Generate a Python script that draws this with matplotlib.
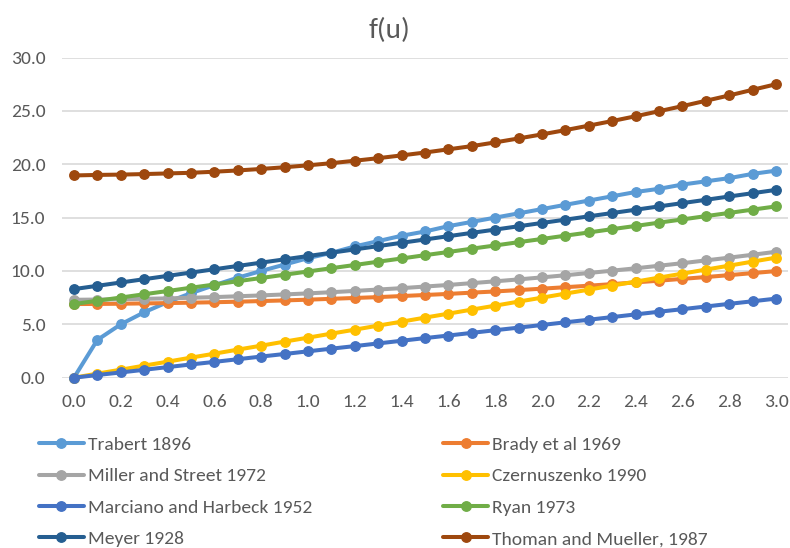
import numpy as np
import matplotlib
matplotlib.use('Agg')
import matplotlib.pyplot as plt

plt.rcParams['font.family'] = ['Carlito', 'DejaVu Sans']

# velocidad del viento u (m/s)
u = [0.0, 0.1, 0.2, 0.3, 0.4, 0.5, 0.6, 0.7, 0.8, 0.9, 1.0,
     1.1, 1.2, 1.3, 1.4, 1.5, 1.6, 1.7, 1.8, 1.9, 2.0,
     2.1, 2.2, 2.3, 2.4, 2.5, 2.6, 2.7, 2.8, 2.9, 3.0]

trabert = [0.0, 3.54, 5.0, 6.13, 7.08, 7.92, 8.67, 9.37, 10.0, 10.6, 11.2,
           11.7, 12.3, 12.8, 13.3, 13.7, 14.2, 14.6, 15.0, 15.4, 15.8,
           16.2, 16.6, 17.0, 17.4, 17.7, 18.1, 18.4, 18.7, 19.1, 19.4]
brady = [6.90, 6.91, 6.93, 6.96, 6.99, 7.03, 7.07, 7.12, 7.18, 7.24, 7.31,
         7.39, 7.47, 7.55, 7.65, 7.75, 7.85, 7.97, 8.08, 8.21, 8.34,
         8.48, 8.62, 8.77, 8.93, 9.09, 9.26, 9.43, 9.61, 9.80, 9.99]
miller = [7.30, 7.32, 7.35, 7.39, 7.43, 7.49, 7.55, 7.63, 7.71, 7.80, 7.90,
          8.01, 8.13, 8.26, 8.39, 8.54, 8.69, 8.86, 9.03, 9.21, 9.40,
          9.60, 9.81, 10.03, 10.25, 10.49, 10.73, 10.99, 11.25, 11.52, 11.80]
czernuszenko = [0.0, 0.38, 0.75, 1.13, 1.50, 1.88, 2.25, 2.63, 3.00, 3.38, 3.75,
                4.13, 4.50, 4.88, 5.25, 5.63, 6.00, 6.38, 6.75, 7.13, 7.50,
                7.88, 8.25, 8.63, 9.00, 9.38, 9.75, 10.13, 10.50, 10.88, 11.25]
marciano = [0.0, 0.25, 0.49, 0.74, 0.99, 1.24, 1.48, 1.73, 1.98, 2.22, 2.47,
            2.72, 2.96, 3.21, 3.46, 3.71, 3.95, 4.20, 4.45, 4.69, 4.94,
            5.19, 5.43, 5.68, 5.93, 6.18, 6.42, 6.67, 6.92, 7.16, 7.41]
ryan = [6.90, 7.21, 7.51, 7.82, 8.12, 8.43, 8.73, 9.04, 9.34, 9.65, 9.95,
        10.26, 10.56, 10.87, 11.17, 11.48, 11.78, 12.09, 12.39, 12.70, 13.00,
        13.31, 13.61, 13.92, 14.22, 14.53, 14.83, 15.14, 15.44, 15.75, 16.05]
meyer = [8.30, 8.61, 8.92, 9.23, 9.54, 9.85, 10.16, 10.47, 10.78, 11.09, 11.40,
         11.71, 12.02, 12.33, 12.64, 12.95, 13.26, 13.57, 13.88, 14.19, 14.50,
         14.81, 15.12, 15.43, 15.74, 16.05, 16.36, 16.67, 16.98, 17.29, 17.60]
thoman = [18.95, 19.00, 19.03, 19.08, 19.14, 19.20, 19.30, 19.42, 19.56, 19.72, 19.90,
          20.10, 20.33, 20.57, 20.83, 21.10, 21.40, 21.70, 22.05, 22.42, 22.80,
          23.20, 23.62, 24.05, 24.50, 24.97, 25.45, 25.95, 26.45, 26.98, 27.50]

series = [
    ('Trabert 1896', trabert, '#5B9BD5'),
    ('Brady et al 1969', brady, '#ED7D31'),
    ('Miller and Street 1972', miller, '#A5A5A5'),
    ('Czernuszenko 1990', czernuszenko, '#FFC000'),
    ('Marciano and Harbeck 1952', marciano, '#4472C4'),
    ('Ryan 1973', ryan, '#70AD47'),
    ('Meyer 1928', meyer, '#255E91'),
    ('Thoman and Mueller, 1987', thoman, '#9E480E'),
]

fig = plt.figure(figsize=(7.9, 5.48), dpi=100)
ax = fig.add_axes([0.0785, 0.3108, 0.919, 0.5842])

handles = []
for name, vals, color in series:
    h, = ax.plot(u, vals, color=color, lw=2.9, marker='o', ms=6.8,
                 label=name, clip_on=False, solid_capstyle='round')
    handles.append(h)

ax.set_xlim(-0.051, 3.051)
ax.set_ylim(0, 30)
ax.set_yticks(np.arange(0, 31, 5))
ax.set_yticklabels([f'{v:.1f}' for v in np.arange(0, 31, 5)])
ax.set_xticks(np.arange(0, 3.01, 0.2))
ax.set_xticklabels([f'{v:.1f}' for v in np.arange(0, 3.01, 0.2)])
ax.grid(axis='y', color='#D9D9D9', lw=1.2)
ax.set_axisbelow(True)
for s in ax.spines.values():
    s.set_visible(False)
ax.tick_params(length=0, labelsize=14, colors='#595959')
ax.tick_params(axis='x', pad=12)
ax.tick_params(axis='y', pad=12)

fig.text(0.4925, 0.945, 'f(u)', ha='center', va='center', fontsize=21, color='#595959')

# leyenda en dos columnas
leg_kw = dict(frameon=False, fontsize=14, handlelength=2.3, handletextpad=0.2,
              labelspacing=0.76, labelcolor='#595959', borderpad=0, borderaxespad=0)
leg1 = fig.legend(handles=handles[0::2], loc='upper left',
                  bbox_to_anchor=(0.0494, 0.2035), **leg_kw)
leg2 = fig.legend(handles=handles[1::2], loc='upper left',
                  bbox_to_anchor=(0.561, 0.2035), **leg_kw)

fig.savefig('out.png', dpi=100)
